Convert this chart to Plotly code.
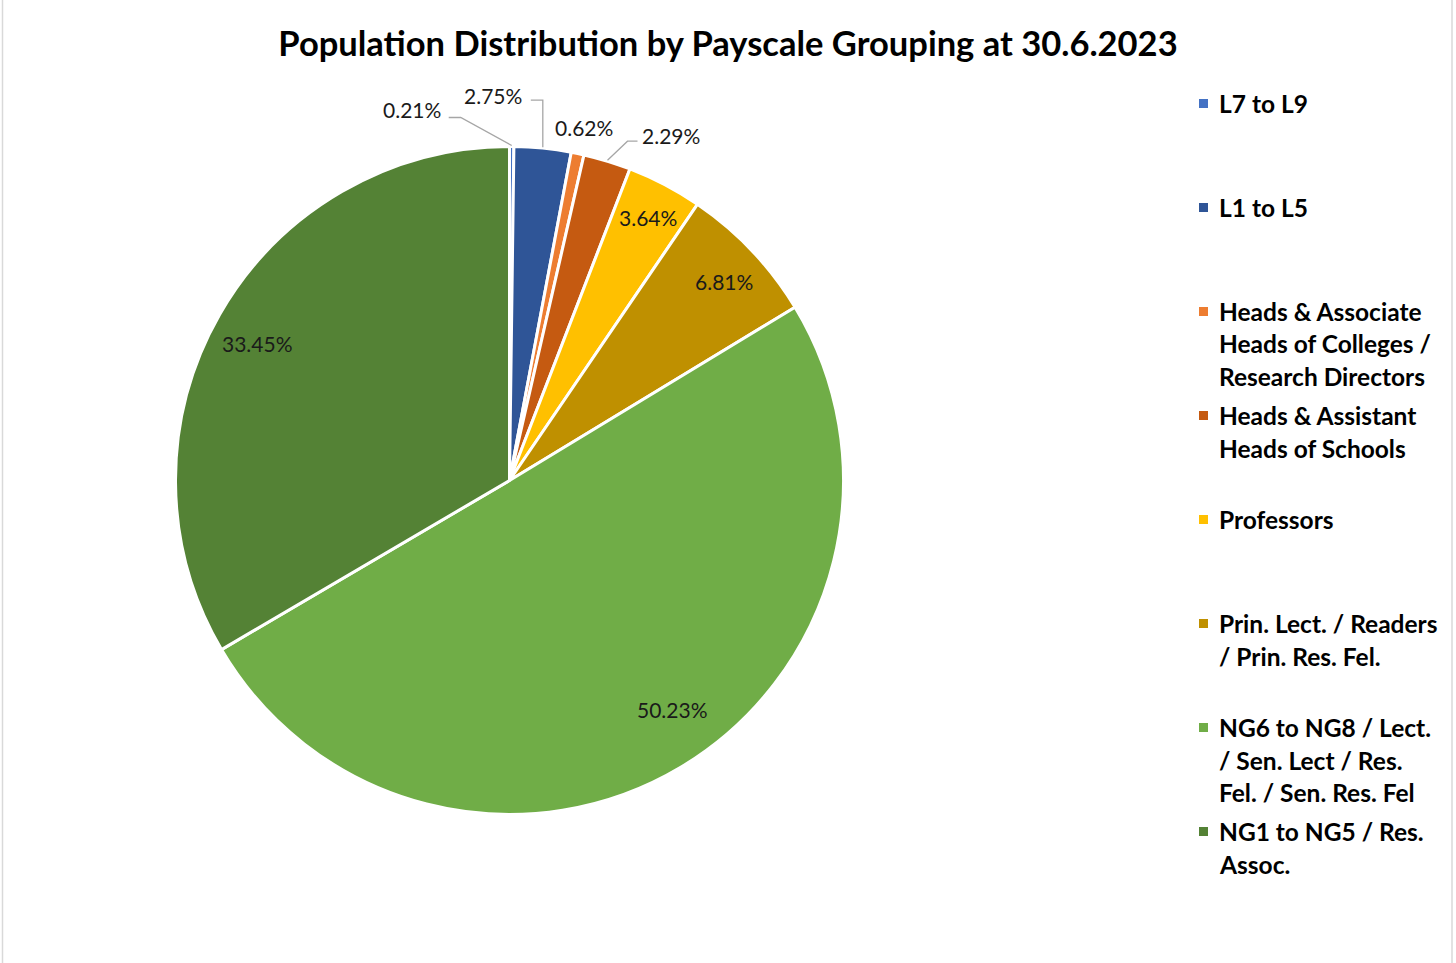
import math
import plotly.graph_objects as go

# ---- data ----
groups = [
    "L7 to L9",
    "L1 to L5",
    "Heads & Associate<br>Heads of Colleges /<br>Research Directors",
    "Heads & Assistant<br>Heads of Schools",
    "Professors",
    "Prin. Lect. / Readers<br>/ Prin. Res. Fel.",
    "NG6 to NG8 / Lect.<br>/ Sen. Lect / Res.<br>Fel. / Sen. Res. Fel",
    "NG1 to NG5 / Res.<br>Assoc.",
]
shares = [0.21, 2.75, 0.62, 2.29, 3.64, 6.81, 50.23, 33.45]
colors = ["#4472C4", "#2F5597", "#ED7D31", "#C55A11",
          "#FFC000", "#BF9000", "#70AD47", "#548235"]

title_text = "Population Distribution by Payscale Grouping at 30.6.2023"

# ---- page geometry (pixels) ----
W, H = 1456, 963
CX, CY, R = 509.5, 480.5, 334.0
FONT = "Lato"
TXT = "#1a1a1a"


def px(x):
    return x / W


def py(y):
    return 1 - y / H


def rim_point(frac_mid, r):
    ang = 2 * math.pi * frac_mid
    return CX + r * math.sin(ang), CY - r * math.cos(ang)


fig = go.Figure(go.Pie(
    labels=[g.replace("<br>", " ") for g in groups],
    values=shares,
    sort=False,
    direction="clockwise",
    rotation=0,
    marker=dict(colors=colors, line=dict(color="white", width=3)),
    textinfo="none",
    hoverinfo="label+percent",
    showlegend=False,
    domain=dict(x=[px(CX - R), px(CX + R)], y=[py(CY + R), py(CY - R)]),
))

# ---- data labels ----
# inside labels: radial fraction of the radius plus a small pixel nudge
inside = {
    4: dict(r=0.89, nudge=(0, 0)),
    5: dict(r=0.875, nudge=(3, 2)),
    6: dict(r=0.84, nudge=(19, -12)),
    7: dict(r=0.86, nudge=(-3, 6)),
}
# outside labels: text offset and leader-line elbow relative to the rim point
outside = {
    0: dict(text=(-100, -36), start=(-63, -28), elbow=(-51, -28)),
    1: dict(text=(-50, -52), start=(-12, -47), elbow=(0, -47)),
    2: dict(text=(6, -25), start=None, elbow=None),
    3: dict(text=(63, -25), start=(30, -19), elbow=(20, -19)),
}

total = sum(shares)
annotations = []
shapes = []
cum = 0.0
for i, v in enumerate(shares):
    mid = (cum + v / 2) / total
    cum += v
    label = f"{v:.2f}%"
    if i in inside:
        x, y = rim_point(mid, R * inside[i]["r"])
        x, y = x + inside[i]["nudge"][0], y + inside[i]["nudge"][1]
    else:
        rx, ry = rim_point(mid, R + 1)
        o = outside[i]
        x, y = rx + o["text"][0], ry + o["text"][1]
        if o["start"] is not None:
            sx, sy = rx + o["start"][0], ry + o["start"][1]
            ex, ey = rx + o["elbow"][0], ry + o["elbow"][1]
            path = (f"M {px(sx)} {py(sy)} L {px(ex)} {py(ey)} "
                    f"L {px(rx)} {py(ry)}")
            shapes.append(dict(type="path", path=path, xref="paper", yref="paper",
                               line=dict(color="#a6a6a6", width=1.3)))
    annotations.append(dict(x=px(x), y=py(y), xref="paper", yref="paper",
                            text=label, showarrow=False,
                            xanchor="center", yanchor="middle",
                            font=dict(family=FONT, size=21, color=TXT)))

# ---- legend (square swatch + wrapped label per entry) ----
LEG_X, LEG_TOP, LEG_STEP, LINE_H = 1217, 103.5, 104, 32.5
for i, (g, c) in enumerate(zip(groups, colors)):
    y0 = LEG_TOP + i * LEG_STEP
    shapes.append(dict(type="rect", xref="paper", yref="paper",
                       x0=px(1199), x1=px(1208), y0=py(y0 + 4.5), y1=py(y0 - 4.5),
                       fillcolor=c, line=dict(width=0)))
    for k, line in enumerate(g.split("<br>")):
        annotations.append(dict(x=px(LEG_X), y=py(y0 + k * LINE_H),
                                xref="paper", yref="paper", text=f"<b>{line}</b>",
                                showarrow=False, xanchor="left", yanchor="middle",
                                font=dict(family=FONT, size=24.5, color="#000000")))

# chart-area frame
shapes.append(dict(type="rect", xref="paper", yref="paper",
                   x0=px(2.5), x1=px(1452), y0=-0.02, y1=1.02,
                   line=dict(color="#d9d9d9", width=1.5)))

fig.update_layout(
    width=W, height=H,
    margin=dict(l=0, r=0, t=0, b=0),
    paper_bgcolor="white",
    plot_bgcolor="white",
    title=dict(text=f"<b>{title_text}</b>", x=0.5, xanchor="center",
               y=py(44), yanchor="middle", yref="container",
               font=dict(family=FONT, size=34.5, color="#000000")),
    annotations=annotations,
    shapes=shapes,
)

fig.write_html("out.html")
